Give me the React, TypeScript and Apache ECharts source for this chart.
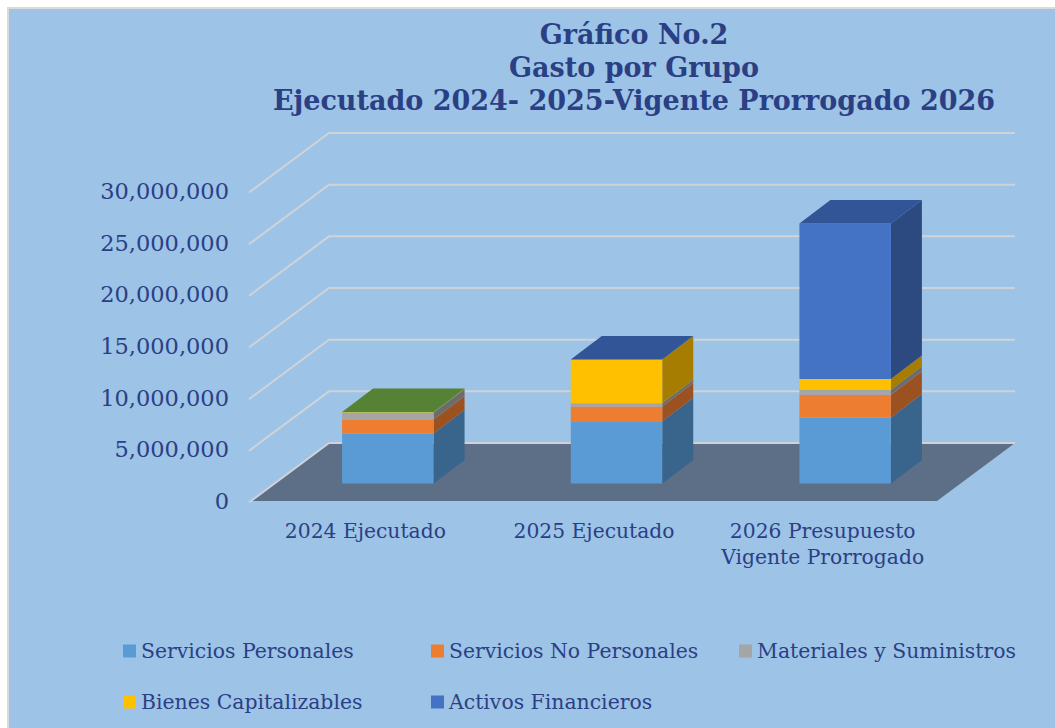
import React, { useEffect, useRef } from "react";
import * as echarts from "echarts";

const categories = ["2024 Ejecutado", "2025 Ejecutado", "2026 Presupuesto\nVigente Prorrogado"];
const serviciosPersonales = [4850000, 6020000, 6380000];
const serviciosNoPersonales = [1350000, 1420000, 2220000];
const materiales = [640000, 320000, 480000];
const bienes = [50000, 4230000, 1030000];
const activos = [null, 20000, 15060000];
const otros = [20000, null, null];
const ticks = [0, 5000000, 10000000, 15000000, 20000000, 25000000, 30000000];
const titleText = "Gráfico No.2\nGasto por Grupo\nEjecutado 2024- 2025-Vigente Prorrogado 2026";

const NAVY = "#2B3F85";
const SERIF = "'DejaVu Serif', serif";
const groups = [
  { name: "Servicios Personales", values: serviciosPersonales, front: "#5B9BD5", side: "#39648B", top: "#39648B" },
  { name: "Servicios No Personales", values: serviciosNoPersonales, front: "#ED7D31", side: "#9B5220", top: "#9B5220" },
  { name: "Materiales y Suministros", values: materiales, front: "#A5A5A5", side: "#6C6C6C", top: "#6C6C6C" },
  { name: "Bienes Capitalizables", values: bienes, front: "#FFC000", side: "#A67D00", top: "#A67D00" },
  { name: "Activos Financieros", values: activos, front: "#4472C4", side: "#2C4A80", top: "#315596" },
  { name: "Otros", values: otros, front: "#70AD47", side: "#49712E", top: "#568235" },
];
const legendPlaces = [
  { left: 123, top: 641 },
  { left: 431, top: 641 },
  { left: 739, top: 641 },
  { left: 123, top: 692 },
  { left: 431, top: 692 },
];

const DEPTH_X = 31;
const DEPTH_Y = 23.5;
const OFFSET_X = 22.5;
const OFFSET_Y = 17.5;
const WALL_X = 78;
const WALL_Y = 58;

function buildBars() {
  const running = categories.map(() => 0);
  const lastIndex = categories.map((_, c) => {
    let last = 0;
    groups.forEach((g, i) => {
      if (g.values[c] !== null) last = i;
    });
    return last;
  });
  return groups.map((g, i) => {
    const data: number[][] = [];
    g.values.forEach((v, c) => {
      if (v === null) return;
      data.push([c, running[c], running[c] + v, lastIndex[c] === i ? 1 : 0]);
      running[c] += v;
    });
    return {
      type: "custom",
      name: g.name,
      itemStyle: { color: g.front },
      data,
      encode: { x: 0, y: [1, 2] },
      silent: true,
      z: 5 + i,
      renderItem: (_: any, api: any) => {
        const c = api.value(0);
        const start = api.coord([c, api.value(1)]);
        const end = api.coord([c, api.value(2)]);
        const w = api.size([1, 0])[0] * 0.4;
        const x0 = start[0] - w / 2 + OFFSET_X;
        const x1 = x0 + w;
        const y0 = start[1] - OFFSET_Y;
        const y1 = end[1] - OFFSET_Y;
        const children: any[] = [
          {
            type: "polygon",
            shape: { points: [[x1, y0], [x1 + DEPTH_X, y0 - DEPTH_Y], [x1 + DEPTH_X, y1 - DEPTH_Y], [x1, y1]] },
            style: { fill: g.side },
          },
          { type: "rect", shape: { x: x0, y: y1, width: w, height: y0 - y1 }, style: { fill: g.front } },
        ];
        if (api.value(3) === 1) {
          children.push({
            type: "polygon",
            shape: { points: [[x0, y1], [x1, y1], [x1 + DEPTH_X, y1 - DEPTH_Y], [x0 + DEPTH_X, y1 - DEPTH_Y]] },
            style: { fill: g.top },
          });
        }
        return { type: "group", children };
      },
    };
  });
}

export default function App() {
  const ref = useRef<HTMLDivElement>(null);
  useEffect(() => {
    document.body.style.margin = "0";
    const chart = echarts.init(ref.current!, null, { renderer: "svg" });
    chart.setOption({
      animation: false,
      backgroundColor: "#FFFFFF",
      graphic: [
        {
          type: "rect",
          z: 0,
          shape: { x: 8, y: 8, width: 1070, height: 740 },
          style: { fill: "#9DC3E6", stroke: "#DADADA", lineWidth: 2 },
        },
      ],
      title: {
        text: titleText,
        left: 629,
        top: 13,
        textAlign: "center",
        textStyle: { color: NAVY, fontFamily: SERIF, fontWeight: "bold", fontSize: 27, lineHeight: 33 },
      },
      grid: { left: 251, top: 191, width: 686, height: 310, containLabel: false },
      xAxis: {
        type: "category",
        data: categories,
        axisLine: { show: false },
        axisTick: { show: false },
        axisLabel: { color: NAVY, fontFamily: SERIF, fontSize: 20.3, lineHeight: 26, margin: 17, interval: 0 },
      },
      yAxis: {
        type: "value",
        min: 0,
        max: 30000000,
        interval: 5000000,
        axisLine: { show: false },
        axisTick: { show: false },
        splitLine: { show: false },
        axisLabel: {
          color: NAVY,
          fontFamily: SERIF,
          fontSize: 22.5,
          margin: 22,
          padding: [3, 0, 0, 0],
          formatter: (v: number) => v.toLocaleString("en-US"),
        },
      },
      legend: legendPlaces.map((p, i) => ({
        left: p.left,
        top: p.top,
        padding: 0,
        icon: "rect",
        itemWidth: 13,
        itemHeight: 13,
        selectedMode: false,
        data: [groups[i].name],
        textStyle: { color: NAVY, fontFamily: SERIF, fontSize: 20.4 },
      })),
      series: [
        {
          type: "custom",
          name: "Piso",
          data: [[0]],
          silent: true,
          z: 2,
          encode: { x: 0 },
          renderItem: (params: any) => {
            const s = params.coordSys;
            const b = s.y + s.height;
            return {
              type: "polygon",
              shape: {
                points: [
                  [s.x, b],
                  [s.x + WALL_X, b - WALL_Y],
                  [s.x + s.width + WALL_X, b - WALL_Y],
                  [s.x + s.width, b],
                ],
              },
              style: { fill: "#5C6F86" },
            };
          },
        },
        {
          type: "custom",
          name: "Rejilla",
          data: ticks.map((t) => [0, t]),
          silent: true,
          z: 3,
          encode: { y: 1 },
          renderItem: (params: any, api: any) => {
            const s = params.coordSys;
            const y = api.coord([0, api.value(1)])[1];
            return {
              type: "polyline",
              shape: {
                points: [
                  [s.x - 2, y + 1.5],
                  [s.x + WALL_X, y - WALL_Y],
                  [s.x + s.width + WALL_X, y - WALL_Y],
                ],
              },
              style: { fill: "none", stroke: "#CFD3D8", lineWidth: 2 },
            };
          },
        },
        ...buildBars(),
      ],
    });
    return () => chart.dispose();
  }, []);
  return <div ref={ref} style={{ width: 1055, height: 728 }} />;
}
